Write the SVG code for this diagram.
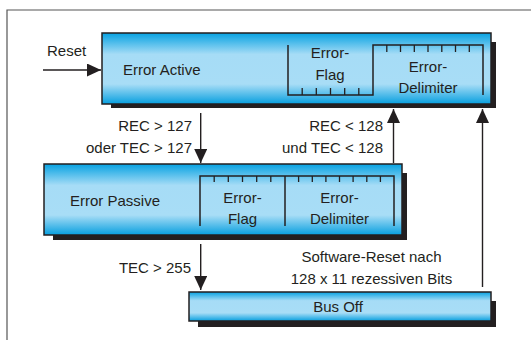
<svg xmlns="http://www.w3.org/2000/svg" width="531" height="340" viewBox="0 0 531 340">
<style>
text{font-family:"Liberation Sans",Arial,sans-serif;font-size:15px;fill:#231f20}
.c{text-anchor:middle}
.r{text-anchor:end}
.box{fill:url(#g);stroke:#231f20;stroke-width:1.5}
.sh{fill:#231f20}
.ln{fill:none;stroke:#231f20;stroke-width:1.5}
.tk{stroke:#231f20;stroke-width:1.3}
.ar{fill:none;stroke:#231f20;stroke-width:1.4}
</style>
<defs>
<linearGradient id="g" x1="0" y1="0" x2="0" y2="1">
<stop offset="0" stop-color="#07a2e2"/>
<stop offset="0.3" stop-color="#a6dcf6"/>
<stop offset="0.72" stop-color="#a8ddf6"/>
<stop offset="1" stop-color="#079fdf"/>
</linearGradient>
<marker id="ah" viewBox="0 0 14 13" refX="14" refY="6.5" markerWidth="14" markerHeight="13" markerUnits="userSpaceOnUse" orient="auto">
<path d="M0,0 L14,6.5 L0,13 Z" fill="#231f20"/>
</marker>
</defs>
<rect width="531" height="340" fill="#fff"/>
<path d="M7,340 V10 H531" fill="none" stroke="#555" stroke-width="1.2"/>

<g id="error-active">
<rect class="sh" x="111" y="42" width="385" height="66"/>
<rect class="box" x="102" y="33" width="389" height="71"/>
<text x="123" y="75">Error Active</text>
<path class="ln" d="M288,45 V95 H373 V45 H483 V95"/>
<path class="tk" d="M302.2,95 V88 M316.3,95 V88 M330.5,95 V88 M344.7,95 V88 M358.8,95 V88 M386.8,45 V52 M400.5,45 V52 M414.3,45 V52 M428,45 V52 M441.8,45 V52 M455.5,45 V52 M469.3,45 V52"/>
<text class="c" x="330" y="57.5">Error-</text>
<text class="c" x="330" y="79.5">Flag</text>
<text class="c" x="428" y="71.5">Error-</text>
<text class="c" x="428" y="92.5">Delimiter</text>
</g>

<g id="error-passive">
<rect class="sh" x="53" y="173" width="354" height="67"/>
<rect class="box" x="44" y="164" width="358" height="71"/>
<text x="70" y="206">Error Passive</text>
<path class="ln" d="M200,226 V176 H394 V226 M285,176 V226"/>
<path class="tk" d="M214.2,176 V182 M228.3,176 V182 M242.5,176 V182 M256.7,176 V182 M270.8,176 V182 M298.6,176 V182 M312.3,176 V182 M325.9,176 V182 M339.5,176 V182 M353.1,176 V182 M366.8,176 V182 M380.4,176 V182"/>
<text class="c" x="242.5" y="203">Error-</text>
<text class="c" x="242.5" y="223.5">Flag</text>
<text class="c" x="339.5" y="203">Error-</text>
<text class="c" x="339.5" y="223.5">Delimiter</text>
</g>

<g id="bus-off">
<rect class="sh" x="198" y="301" width="298" height="26"/>
<rect class="box" x="189" y="292" width="302" height="29"/>
<text class="c" x="338" y="312">Bus Off</text>
</g>

<g id="connectors">
<line class="ar" x1="43" y1="70" x2="101" y2="70" marker-end="url(#ah)"/>
<text x="47" y="55.5">Reset</text>
<line class="ar" x1="200.7" y1="113" x2="200.7" y2="163" marker-end="url(#ah)"/>
<text class="r" x="192" y="131">REC &gt; 127</text>
<text class="r" x="192" y="153">oder TEC &gt; 127</text>
<line class="ar" x1="393.5" y1="163" x2="393.5" y2="109" marker-end="url(#ah)"/>
<text class="r" x="383" y="131">REC &lt; 128</text>
<text class="r" x="383" y="153">und TEC &lt; 128</text>
<line class="ar" x1="200.7" y1="244" x2="200.7" y2="290" marker-end="url(#ah)"/>
<text class="r" x="191" y="273">TEC &gt; 255</text>
<line class="ar" x1="482.5" y1="287" x2="482.5" y2="109" marker-end="url(#ah)"/>
<text class="c" x="371.5" y="262">Software-Reset nach</text>
<text class="c" x="371.5" y="283.5">128 x 11 rezessiven Bits</text>
</g>
</svg>
